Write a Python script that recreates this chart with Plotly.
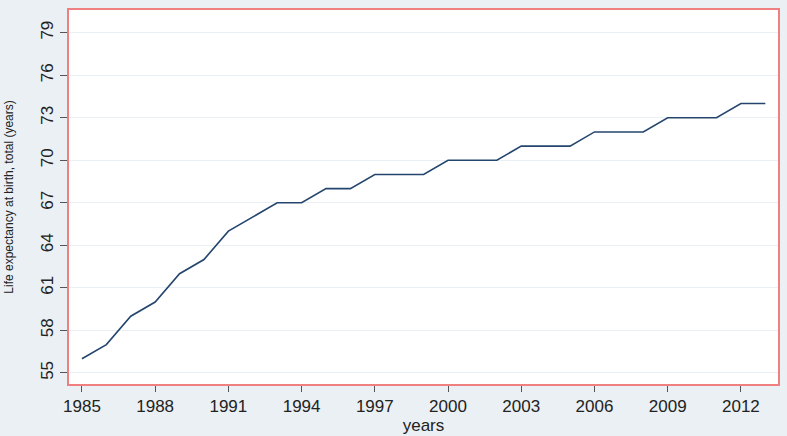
import plotly.graph_objects as go

years = list(range(1985, 2014))
life_expectancy = [56, 57, 59, 60, 62, 63, 65, 66, 67, 67, 68, 68, 69, 69, 69,
                   70, 70, 70, 71, 71, 71, 72, 72, 72, 73, 73, 73, 74, 74]
x_ticks = list(range(1985, 2013, 3))
y_ticks = list(range(55, 80, 3))

fig = go.Figure(go.Scatter(
    x=years, y=life_expectancy, mode="lines",
    line=dict(color="#24466e", width=1.6),
))

fig.update_layout(
    width=787, height=436,
    margin=dict(l=69, r=9, t=10, b=52),
    paper_bgcolor="#eaf0f3",
    plot_bgcolor="white",
    font=dict(family="Liberation Sans, Arial, sans-serif", color="#222222"),
    showlegend=False,
)
fig.update_xaxes(
    range=[1984.47, 2013.52], tickvals=x_ticks, ticks="outside", ticklen=6,
    tickcolor="#555555", tickfont=dict(size=17), showgrid=False, zeroline=False,
    showline=True, linecolor="#f08080", linewidth=1.5, mirror=True,
    automargin=False,
    title=dict(text="years", font=dict(size=17), standoff=0),
)
fig.update_yaxes(
    range=[54.22, 80.6], tickvals=y_ticks, ticks="outside", ticklen=7,
    tickcolor="#555555", tickfont=dict(size=17), tickangle=-90,
    showgrid=True, gridcolor="#e8f0f3", gridwidth=1, zeroline=False,
    showline=True, linecolor="#f08080", linewidth=1.5, mirror=True,
    automargin=False,
    title=dict(text="Life expectancy at birth, total (years)", font=dict(size=12), standoff=22),
)

# drop the browser's default body margin so the figure sits flush in the window
fig.write_html("out.html", config={"displayModeBar": False},
               post_script="document.body.style.margin='0';")
